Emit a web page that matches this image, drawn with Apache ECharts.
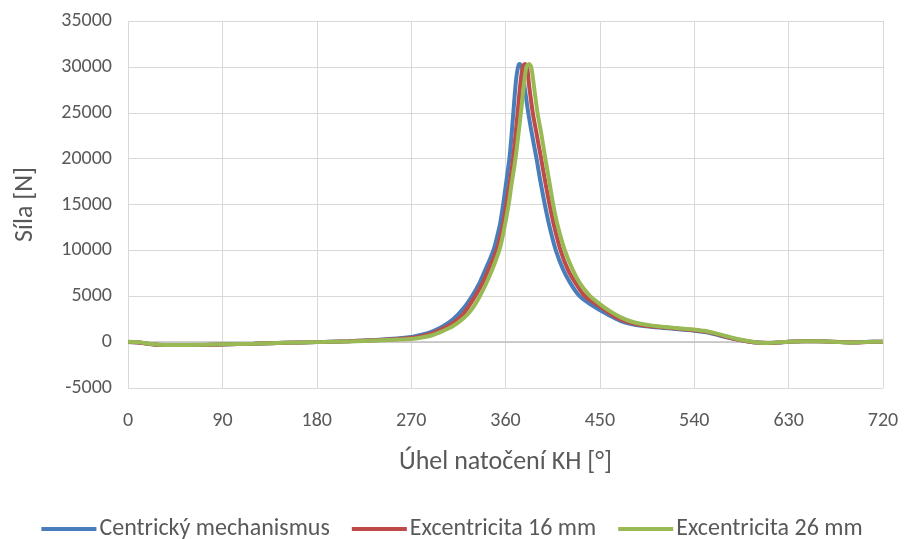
<!DOCTYPE html>
<html>
<head>
<meta charset="utf-8">
<script src="https://cdn.jsdelivr.net/npm/echarts@6/dist/echarts.min.js"></script>
<style>
html,body{margin:0;padding:0;background:#fff;}
#chart{width:904px;height:539px;}
</style>
</head>
<body>
<div id="chart"></div>
<script>
// ---- data ----
const seriesNames = ['Centrický mechanismus', 'Excentricita 16 mm', 'Excentricita 26 mm'];
const xTicks = [0, 90, 180, 270, 360, 450, 540, 630, 720];
const yTicks = [-5000, 0, 5000, 10000, 15000, 20000, 25000, 30000, 35000];

const blueAngles = [0,10,20,30,45,60,90,120,150,180,210,240,270,280,290,300,310,320,328,335,340,345,349,352,355,358,361,364,367,370,372,373.5,375.7,378,381.7,385,389.6,393,397.5,402,408,415,422,430,440,450,460,470,480,490,500,510,520,530,540,550,560,570,580,590,600,610,620,630,640,650,660,670,680,690,700,710,720];
const blueValues = [0,-50,-200,-300,-320,-320,-250,-180,-80,0,100,250,550,800,1150,1700,2500,3700,5000,6400,7700,9000,10200,11500,13000,15200,17700,20300,24300,28500,30000,30300,30000,28000,25000,22800,20000,17700,15000,12600,10000,7900,6400,5100,4200,3500,2850,2300,1980,1780,1650,1550,1450,1350,1250,1100,850,550,300,100,-50,-100,-50,50,80,100,100,50,0,-50,0,50,50];

const redAngles = [0,10,20,30,45,60,90,120,150,180,210,240,270,280,290,300,310,320,331,338,343,348,352,355,358,361,364.5,367.5,371,374.5,376.5,378.5,380.5,382.5,386,389.5,394,397.5,402,406.5,412.5,419.5,427,435,445,455,465,475,485,495,505,515,525,535,545,555,565,575,585,595,605,615,625,635,645,655,665,675,685,695,705,720];
const redValues = [0,-50,-200,-300,-320,-320,-250,-180,-80,0,90,220,450,650,950,1450,2100,3100,5000,6400,7700,9000,10200,11500,13000,15200,17700,20300,24300,28500,30000,30300,30000,28000,25000,22800,20000,17700,15000,12600,10000,7900,6400,5100,4250,3500,2750,2250,1950,1780,1660,1560,1460,1360,1250,1060,760,450,200,20,-80,-90,0,60,90,100,80,30,-20,-30,20,50];

const greenAngles = [0,10,20,30,45,60,90,120,150,180,210,240,270,280,290,300,310,320,328,335.5,342,347,351,354.6,358,363,366,369.5,374.7,377.5,380,382.5,384.5,387,390.5,394,398,401.5,405.5,410,416.6,424,431,440,450,460,470,480,490,500,510,520,530,540,550,560,570,580,590,600,610,620,630,640,650,660,670,680,690,700,710,720];
const greenValues = [50,0,-180,-280,-300,-300,-240,-170,-80,0,80,200,350,500,750,1200,1750,2600,3600,5000,6500,7800,9000,10200,11900,15000,17400,20000,25000,28000,30000,30300,30000,28000,25000,22800,20000,17700,15000,12600,10000,7900,6400,5100,4150,3350,2700,2250,1980,1800,1680,1570,1470,1370,1230,980,670,370,140,-30,-100,-30,50,80,100,100,50,0,-50,0,50,50];

const colors = ['#4A7EBB', '#BE4B48', '#98B954'];

function pairs(xs, ys){ return xs.map((x,i)=>[x, ys[i]]); }

const FONT = 'Carlito, Lato, sans-serif';
const chart = echarts.init(document.getElementById('chart'), null, {renderer:'canvas'});
const dataSets = [pairs(blueAngles, blueValues), pairs(redAngles, redValues), pairs(greenAngles, greenValues)];

chart.setOption({
  animation: false,
  backgroundColor: '#ffffff',
  grid: {left: 128, right: 21, top: 21, bottom: 151},
  xAxis: {
    type: 'value', min: xTicks[0], max: xTicks[xTicks.length-1], interval: 90,
    name: 'Úhel natočení KH [°]', nameLocation: 'middle', nameGap: 61,
    nameTextStyle: {fontFamily: FONT, fontSize: 26, color: '#595959'},
    axisLine: {show: false}, axisTick: {show: false},
    axisLabel: {fontFamily: FONT, fontSize: 20, color: '#595959', margin: 23, formatter: v => String(v)},
    splitLine: {show: true, lineStyle: {color: '#d9d9d9', width: 1}}
  },
  yAxis: {
    type: 'value', min: yTicks[0], max: yTicks[yTicks.length-1], interval: 5000,
    name: 'Síla [N]', nameLocation: 'middle', nameGap: 90,
    nameTextStyle: {fontFamily: FONT, fontSize: 26, color: '#595959'},
    axisLine: {show: false}, axisTick: {show: false},
    axisLabel: {fontFamily: FONT, fontSize: 20, color: '#595959', margin: 16, formatter: v => String(v)},
    splitLine: {show: true, lineStyle: {color: '#d9d9d9', width: 1}}
  },
  legend: {
    top: 512, left: 'center', itemWidth: 55, itemHeight: 4, itemGap: 22,
    icon: 'rect',
    textStyle: {fontFamily: FONT, fontSize: 24, color: '#595959', padding: [0,0,0,-2]},
    data: seriesNames
  },
  series: seriesNames.map((n, i) => ({
    name: n, type: 'line', data: dataSets[i], showSymbol: false, smooth: 0.3,
    lineStyle: {color: colors[i], width: 4}, itemStyle: {color: colors[i]},
    z: 2 + i,
    markLine: i === 0 ? {silent: true, symbol: 'none', label: {show: false},
      lineStyle: {color: '#bfbfbf', width: 1.5, type: 'solid'}, data: [{yAxis: 0}], z: 1} : undefined
  }))
});
</script>
</body>
</html>
